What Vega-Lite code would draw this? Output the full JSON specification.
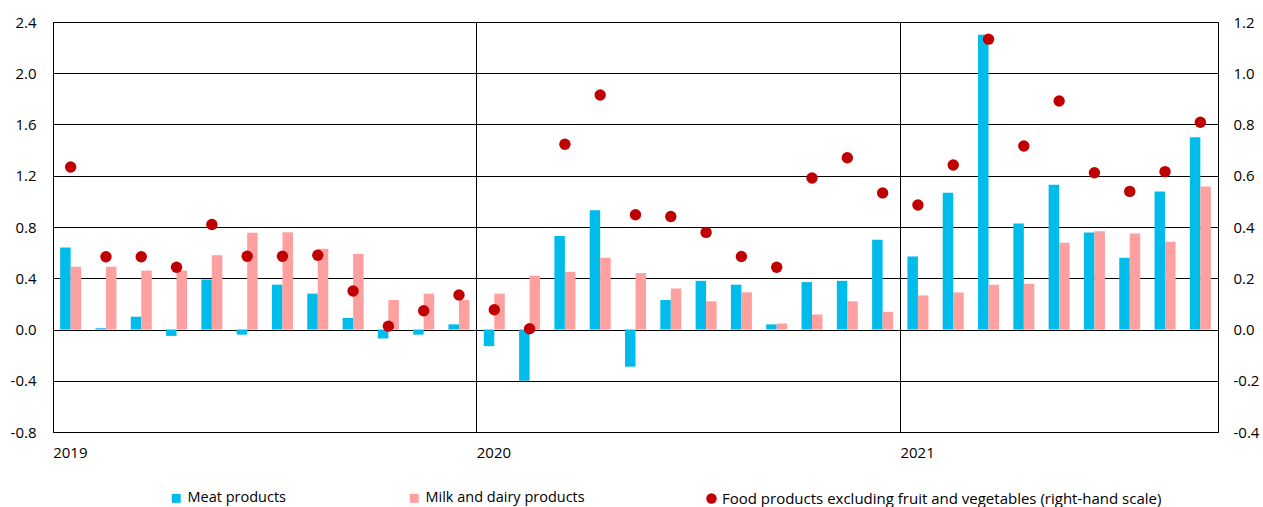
{
  "$schema": "https://vega.github.io/schema/vega-lite/v6.json",
  "width": 1165,
  "height": 410,
  "autosize": {"type": "none"},
  "padding": {"left": 53, "top": 22, "right": 45, "bottom": 75},
  "background": "white",
  "config": {
    "view": {"stroke": "#000000", "strokeWidth": 1},
    "font": "Open Sans",
    "axis": {"labelFont": "Open Sans", "labelFontSize": 15, "labelColor": "#000000", "domain": false, "ticks": false, "gridColor": "#000000", "gridWidth": 1, "gridOpacity": 1, "title": null},
    "legend": {"labelFont": "Open Sans", "labelFontSize": 14.5, "labelColor": "#000000", "padding": 0, "title": null, "labelLimit": 0}
  },
  "data": {"values": [
    {"month": "2019-01", "Meat products": 0.64, "Milk and dairy products": 0.49, "food": 0.634},
    {"month": "2019-02", "Meat products": 0.01, "Milk and dairy products": 0.49, "food": 0.284},
    {"month": "2019-03", "Meat products": 0.10, "Milk and dairy products": 0.46, "food": 0.284},
    {"month": "2019-04", "Meat products": -0.05, "Milk and dairy products": 0.46, "food": 0.243},
    {"month": "2019-05", "Meat products": 0.39, "Milk and dairy products": 0.58, "food": 0.41},
    {"month": "2019-06", "Meat products": -0.04, "Milk and dairy products": 0.755, "food": 0.286},
    {"month": "2019-07", "Meat products": 0.35, "Milk and dairy products": 0.76, "food": 0.286},
    {"month": "2019-08", "Meat products": 0.28, "Milk and dairy products": 0.63, "food": 0.29},
    {"month": "2019-09", "Meat products": 0.09, "Milk and dairy products": 0.59, "food": 0.15},
    {"month": "2019-10", "Meat products": -0.07, "Milk and dairy products": 0.23, "food": 0.013},
    {"month": "2019-11", "Meat products": -0.04, "Milk and dairy products": 0.28, "food": 0.073},
    {"month": "2019-12", "Meat products": 0.04, "Milk and dairy products": 0.23, "food": 0.135},
    {"month": "2020-01", "Meat products": -0.13, "Milk and dairy products": 0.28, "food": 0.077},
    {"month": "2020-02", "Meat products": -0.40, "Milk and dairy products": 0.42, "food": 0.003},
    {"month": "2020-03", "Meat products": 0.73, "Milk and dairy products": 0.45, "food": 0.723},
    {"month": "2020-04", "Meat products": 0.93, "Milk and dairy products": 0.56, "food": 0.915},
    {"month": "2020-05", "Meat products": -0.29, "Milk and dairy products": 0.44, "food": 0.448},
    {"month": "2020-06", "Meat products": 0.23, "Milk and dairy products": 0.32, "food": 0.441},
    {"month": "2020-07", "Meat products": 0.38, "Milk and dairy products": 0.22, "food": 0.379},
    {"month": "2020-08", "Meat products": 0.35, "Milk and dairy products": 0.29, "food": 0.285},
    {"month": "2020-09", "Meat products": 0.04, "Milk and dairy products": 0.047, "food": 0.243},
    {"month": "2020-10", "Meat products": 0.37, "Milk and dairy products": 0.117, "food": 0.591},
    {"month": "2020-11", "Meat products": 0.38, "Milk and dairy products": 0.22, "food": 0.67},
    {"month": "2020-12", "Meat products": 0.70, "Milk and dairy products": 0.138, "food": 0.533},
    {"month": "2021-01", "Meat products": 0.57, "Milk and dairy products": 0.266, "food": 0.486},
    {"month": "2021-02", "Meat products": 1.068, "Milk and dairy products": 0.289, "food": 0.642},
    {"month": "2021-03", "Meat products": 2.30, "Milk and dairy products": 0.349, "food": 1.133},
    {"month": "2021-04", "Meat products": 0.828, "Milk and dairy products": 0.357, "food": 0.716},
    {"month": "2021-05", "Meat products": 1.13, "Milk and dairy products": 0.677, "food": 0.892},
    {"month": "2021-06", "Meat products": 0.758, "Milk and dairy products": 0.766, "food": 0.612},
    {"month": "2021-07", "Meat products": 0.56, "Milk and dairy products": 0.75, "food": 0.539},
    {"month": "2021-08", "Meat products": 1.078, "Milk and dairy products": 0.685, "food": 0.616},
    {"month": "2021-09", "Meat products": 1.50, "Milk and dairy products": 1.117, "food": 0.809}
  ]},
  "encoding": {
    "x": {
      "field": "month", "type": "ordinal",
      "scale": {"paddingInner": 0.405, "paddingOuter": 0.2025},
      "axis": {
        "values": ["2019-01", "2020-01", "2021-01"],
        "labelExpr": "substring(datum.value, 0, 4)",
        "bandPosition": -0.34,
        "grid": true,
        "labelAlign": "left",
        "labelAngle": 0,
        "labelOffset": -17.5,
        "labelPadding": 13
      }
    }
  },
  "layer": [
    {
      "transform": [{"fold": ["Meat products", "Milk and dairy products"], "as": ["series", "value"]}],
      "mark": {"type": "bar"},
      "encoding": {
        "xOffset": {"field": "series", "type": "nominal", "sort": ["Meat products", "Milk and dairy products"]},
        "y": {
          "field": "value", "type": "quantitative",
          "scale": {"domain": [-0.8, 2.4], "nice": false, "zero": false},
          "axis": {"orient": "left", "values": [-0.8, -0.4, 0, 0.4, 0.8, 1.2, 1.6, 2.0, 2.4], "labelExpr": "replace(format(datum.value, '.1f'), '\u2212', '-')", "grid": true, "labelPadding": 17}
        },
        "color": {
          "field": "series", "type": "nominal",
          "scale": {"domain": ["Meat products", "Milk and dairy products"], "range": ["#00BCEB", "#FFA0A0"]},
          "legend": {"orient": "none", "direction": "horizontal", "legendX": 116, "legendY": 469, "symbolType": "square", "symbolSize": 80, "symbolStrokeWidth": 0, "labelOffset": 4, "columnPadding": 121}
        }
      }
    },
    {
      "mark": {"type": "circle", "size": 130, "opacity": 1},
      "encoding": {
        "y": {
          "field": "food", "type": "quantitative",
          "scale": {"domain": [-0.4, 1.2], "nice": false, "zero": false},
          "axis": {"orient": "right", "values": [-0.4, -0.2, 0, 0.2, 0.4, 0.6, 0.8, 1.0, 1.2], "labelExpr": "replace(format(datum.value, '.1f'), '\u2212', '-')", "grid": false, "labelPadding": 15}
        },
        "color": {
          "datum": "Food products excluding fruit and vegetables (right-hand scale)",
          "type": "nominal",
          "scale": {"domain": ["Food products excluding fruit and vegetables (right-hand scale)"], "range": ["#C00000"]},
          "legend": {"orient": "none", "legendX": 651, "legendY": 469, "symbolType": "circle", "symbolSize": 110, "labelOffset": 3, "labelFontSize": 15}
        }
      }
    }
  ],
  "resolve": {"scale": {"y": "independent", "color": "independent"}, "legend": {"color": "independent"}}
}
